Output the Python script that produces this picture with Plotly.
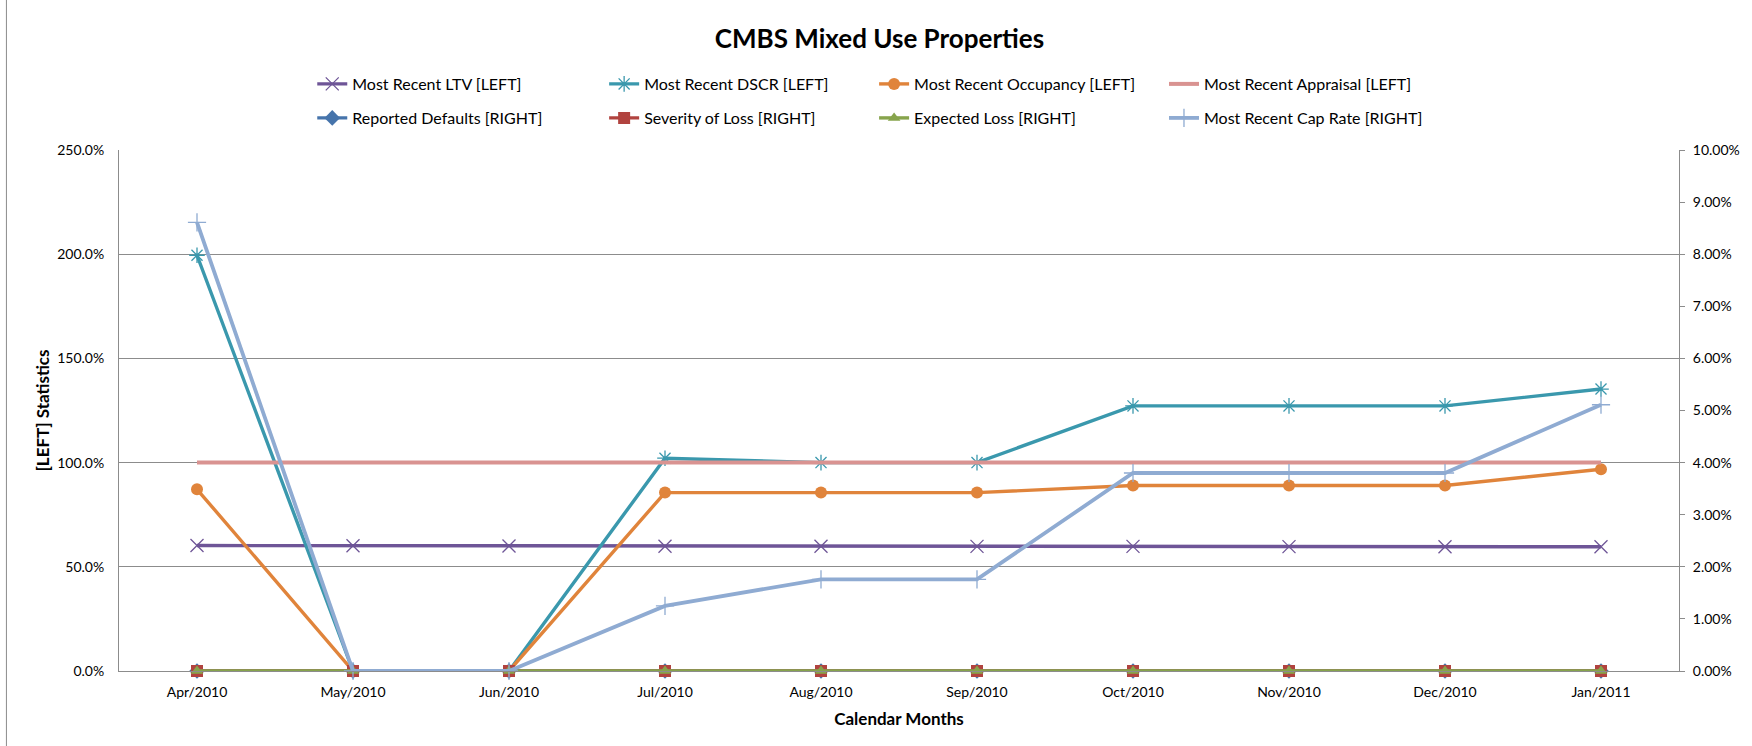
import plotly.graph_objects as go

months = ["Apr/2010", "May/2010", "Jun/2010", "Jul/2010", "Aug/2010",
          "Sep/2010", "Oct/2010", "Nov/2010", "Dec/2010", "Jan/2011"]

# LEFT axis series (fractions)
ltv = [0.602, 0.601, 0.600, 0.599, 0.599, 0.598, 0.598, 0.597, 0.596, 0.596]
dscr = [1.995, 0.0, 0.0, 1.021, 1.000, 1.000, 1.272, 1.272, 1.272, 1.353]
occupancy = [0.872, 0.0, 0.0, 0.856, 0.856, 0.856, 0.890, 0.890, 0.890, 0.968]
appraisal = [1.0, 1.0, 1.0, 1.0, 1.0, 1.0, 1.0, 1.0, 1.0, 1.0]

# RIGHT axis series (fractions)
defaults = [0, 0, 0, 0, 0, 0, 0, 0, 0, 0]
severity = [0, 0, 0, 0, 0, 0, 0, 0, 0, 0]
expected_loss = [0, 0, 0, 0, 0, 0, 0, 0, 0, 0]
cap_rate = [0.0861, 0.0, 0.0, 0.0125, 0.0176, 0.0176, 0.0380, 0.0380, 0.0380, 0.0511]

FONT = "Lato, 'Open Sans', sans-serif"
GRID = "#8c8c8c"

L, R, T, B = 119, 67, 150, 75
W, H = 1752, 746
pw, ph = W - L - R, H - T - B


def px_x(x):
    return (x - L) / pw


def px_y(y):
    return (H - B - y) / ph


# legend slot positions (pixel columns / rows)
col_x = [313, 606, 877, 1168]
row_y = [84, 118]

fig = go.Figure()
_count = [0]


def add(name, y, color, symbol, size, axis, width=3.4, mode="lines+markers", mline=1.3):
    i = _count[0]
    _count[0] += 1
    key = "legend" if i == 0 else f"legend{i + 1}"
    fig.add_trace(go.Scatter(
        x=months, y=y, name=name, mode=mode, yaxis=axis, legend=key,
        cliponaxis=False,
        line=dict(color=color, width=width),
        marker=dict(symbol=symbol, size=size, color=color,
                    line=dict(color=color, width=mline)),
    ))
    fig.update_layout({key: dict(
        x=px_x(col_x[i % 4]), y=px_y(row_y[i // 4]),
        xanchor="left", yanchor="middle", orientation="h",
        font=dict(family=FONT, size=16, color="#000000"),
        bgcolor="rgba(0,0,0,0)", itemclick=False, borderwidth=0,
    )})


add("Most Recent LTV [LEFT]", ltv, "#6e5597", "x-thin-open", 13, "y")
add("Most Recent DSCR [LEFT]", dscr, "#3a98ad", "asterisk-open", 13, "y")
add("Most Recent Occupancy [LEFT]", occupancy, "#e0843b", "circle", 12, "y", mline=0)
add("Most Recent Appraisal [LEFT]", appraisal, "#d99391", "circle", 1, "y", width=4, mode="lines")
add("Reported Defaults [RIGHT]", defaults, "#4674ab", "diamond", 12, "y2", mline=0)
add("Severity of Loss [RIGHT]", severity, "#b1433f", "square", 12, "y2", mline=0)
add("Expected Loss [RIGHT]", expected_loss, "#87a44c", "triangle-up", 11, "y2", mline=0)
add("Most Recent Cap Rate [RIGHT]", cap_rate, "#8fabd2", "cross-thin-open", 13, "y2", width=3.8)

fig.update_layout(
    width=W, height=H,
    margin=dict(l=L, r=R, t=T, b=B),
    paper_bgcolor="white", plot_bgcolor="white",
    font=dict(family=FONT, size=14, color="#000000"),
    title=dict(text="<b>CMBS Mixed Use Properties</b>", x=0.502, xanchor="center",
               y=1 - 39 / H, yanchor="middle",
               font=dict(family=FONT, size=26, color="#000000")),
    xaxis=dict(
        type="category", showgrid=False, showline=True, linecolor=GRID, linewidth=1,
        ticks="", tickfont=dict(family=FONT, size=14), ticklabelstandoff=8,
        title=dict(text="<b>Calendar Months</b>", font=dict(family=FONT, size=17), standoff=14),
        range=[-0.5, 9.5], zeroline=False,
    ),
    yaxis=dict(
        range=[0, 2.5], dtick=0.5, tickformat=".1%", showgrid=True, gridcolor=GRID,
        gridwidth=1, showline=True, linecolor=GRID, linewidth=1, zeroline=False,
        ticks="", tickfont=dict(family=FONT, size=14), ticklabelstandoff=11,
        title=dict(text="<b>[LEFT] Statistics</b>", font=dict(family=FONT, size=17), standoff=3),
    ),
    yaxis2=dict(
        range=[0, 0.10], dtick=0.01, tickformat=".2%", overlaying="y", side="right",
        showgrid=False, showline=True, linecolor=GRID, linewidth=1, zeroline=False,
        ticks="outside", ticklen=5, tickcolor=GRID, tickfont=dict(family=FONT, size=14),
        ticklabelstandoff=5,
    ),
    showlegend=True,
)

# outer chart frame (only its left edge falls inside the window)
fig.add_shape(type="line", xref="paper", yref="paper",
              x0=px_x(6), x1=px_x(6), y0=px_y(746), y1=px_y(0),
              line=dict(color="#8c8c8c", width=1), layer="below")

fig.write_html("out.html", config={"displayModeBar": False},
               post_script="document.body.style.margin='0px';document.body.style.overflow='hidden';")
